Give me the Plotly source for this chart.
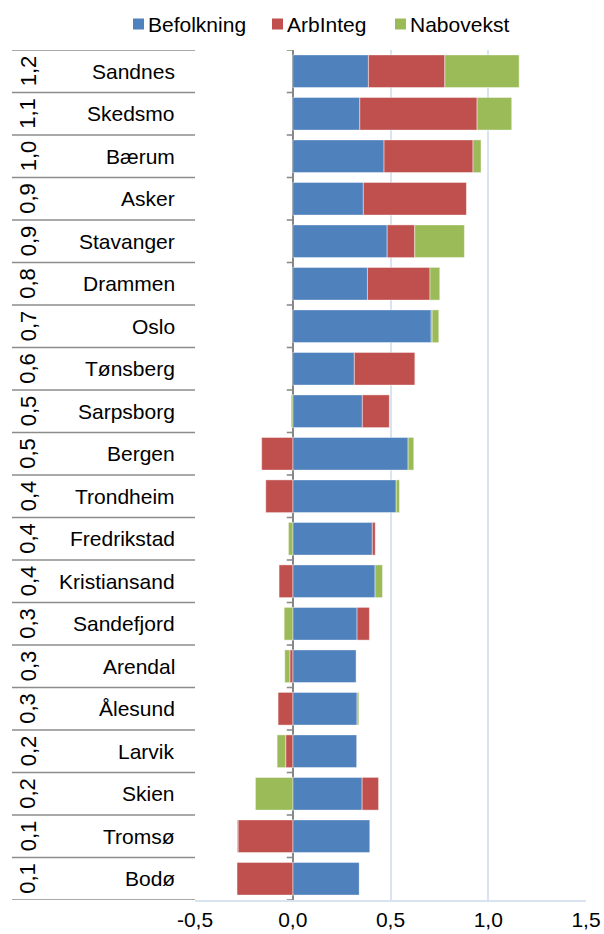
import plotly.graph_objects as go

# Municipalities, top to bottom, with their rounded total
cities = ["Sandnes", "Skedsmo", "Bærum", "Asker", "Stavanger", "Drammen", "Oslo",
          "Tønsberg", "Sarpsborg", "Bergen", "Trondheim", "Fredrikstad",
          "Kristiansand", "Sandefjord", "Arendal", "Ålesund", "Larvik", "Skien",
          "Tromsø", "Bodø"]
totals = ["1,2", "1,1", "1,0", "0,9", "0,9", "0,8", "0,7", "0,6", "0,5", "0,5",
          "0,4", "0,4", "0,4", "0,3", "0,3", "0,3", "0,2", "0,2", "0,1", "0,1"]

# Components
befolkning = [0.387, 0.343, 0.467, 0.361, 0.483, 0.382, 0.708, 0.315, 0.356, 0.590,
              0.529, 0.407, 0.421, 0.329, 0.324, 0.329, 0.327, 0.355, 0.394, 0.341]
arbinteg = [0.391, 0.600, 0.455, 0.529, 0.141, 0.320, 0.005, 0.311, 0.138, -0.159,
            -0.138, 0.015, -0.070, 0.063, -0.015, -0.075, -0.036, 0.084, -0.280, -0.285]
nabovekst = [0.380, 0.177, 0.041, 0.0, 0.254, 0.050, 0.034, 0.0, -0.008, 0.029,
             0.017, -0.022, 0.038, -0.044, -0.026, 0.009, -0.044, -0.191, -0.005, 0.0]

x_ticks = [-0.5, 0.0, 0.5, 1.0, 1.5]
x_tick_labels = ["-0,5", "0,0", "0,5", "1,0", "1,5"]

series = [("Befolkning", befolkning, "#4F81BD"),
          ("ArbInteg", arbinteg, "#C0504D"),
          ("Nabovekst", nabovekst, "#9BBB59")]

FONT = "Arial, Liberation Sans, sans-serif"
W, H = 604, 934
L, R, T, B = 195, 18, 50, 34
plot_w = W - L - R
plot_h = H - T - B

fig = go.Figure()
for name, vals, col in series:
    fig.add_trace(go.Bar(
        y=cities, x=vals, name=name, orientation="h",
        marker=dict(color=col, line=dict(color="rgba(255,255,255,0.55)", width=0.8)),
        width=0.77,
    ))

def px_to_paper(px):
    return (px - L) / plot_w

def py_to_paper(py):
    return (H - B - py) / plot_h

annotations = []
shapes = []
n = len(cities)
for i, (city, tot) in enumerate(zip(cities, totals)):
    annotations.append(dict(
        x=px_to_paper(177), y=i, xref="paper", yref="y", text=city,
        showarrow=False, xanchor="right", yanchor="middle",
        font=dict(family=FONT, size=21, color="#000000"),
    ))
    annotations.append(dict(
        x=px_to_paper(28), y=i, xref="paper", yref="y", text=tot,
        showarrow=False, xanchor="center", yanchor="middle", textangle=-90,
        font=dict(family=FONT, size=22, color="#000000"),
    ))

# Row separators of the category table and tick marks on the zero axis
for k in range(n + 1):
    yb = k - 0.5
    shapes.append(dict(type="line", xref="paper", yref="y",
                       x0=px_to_paper(12), x1=0, y0=yb, y1=yb,
                       line=dict(color="#8c8c8c", width=1.6)))
    shapes.append(dict(type="line", xref="x", yref="y",
                       x0=-6 / (plot_w / 2.0), x1=0, y0=yb, y1=yb,
                       line=dict(color="#8c8c8c", width=1.6)))

# Legend row: a small swatch followed closely by the series name
legend_swatch_x = [133, 272, 395]
legend_cy = 24
for (name, _, col), sx in zip(series, legend_swatch_x):
    shapes.append(dict(type="rect", xref="paper", yref="paper",
                       x0=px_to_paper(sx), x1=px_to_paper(sx + 11),
                       y0=py_to_paper(legend_cy + 5.5), y1=py_to_paper(legend_cy - 5.5),
                       line=dict(width=0), fillcolor=col))
    annotations.append(dict(
        x=px_to_paper(sx + 13), y=py_to_paper(legend_cy), xref="paper", yref="paper",
        text=name, showarrow=False, xanchor="left", yanchor="middle",
        font=dict(family=FONT, size=21, color="#000000"),
    ))

fig.update_layout(
    width=W, height=H,
    margin=dict(l=L, r=R, t=T, b=B, pad=0, autoexpand=False),
    barmode="relative",
    plot_bgcolor="white", paper_bgcolor="white",
    font=dict(family=FONT, size=21, color="#000000"),
    showlegend=False,
    xaxis=dict(range=[-0.5, 1.5], tickvals=x_ticks, ticktext=x_tick_labels,
               showgrid=True, gridcolor="#d9e3f1", gridwidth=1.5,
               zeroline=True, zerolinecolor="#868686", zerolinewidth=2,
               showline=True, linecolor="#d9e3f1", linewidth=1.5,
               ticks="", tickfont=dict(family=FONT, size=21, color="#000000"),
               automargin=False, fixedrange=True),
    yaxis=dict(categoryorder="array", categoryarray=cities,
               range=[n - 0.5, -0.5], showticklabels=False, showgrid=False,
               zeroline=False, showline=False, ticks="", automargin=False,
               fixedrange=True),
    annotations=annotations,
    shapes=shapes,
)

fig.write_html("out.html")
